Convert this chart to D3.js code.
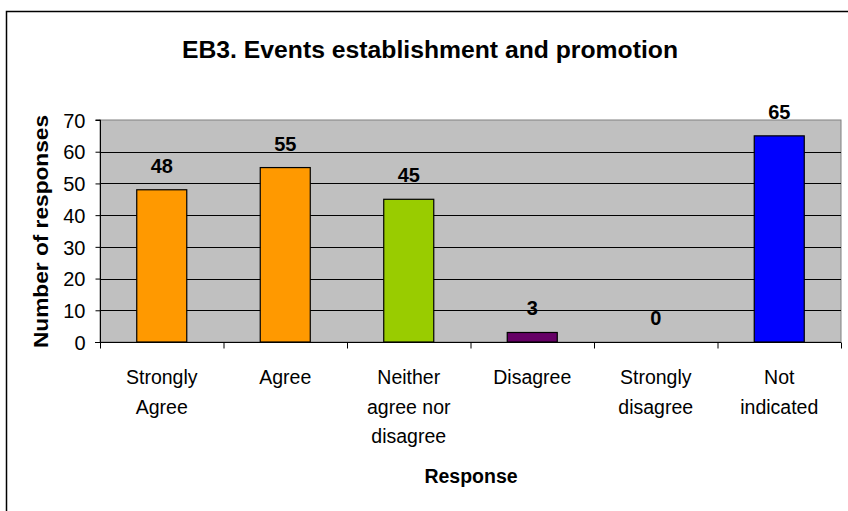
<!DOCTYPE html>
<html><head><meta charset="utf-8">
<script src="https://cdn.jsdelivr.net/npm/d3@7"></script>
<style>html,body{margin:0;padding:0;background:#fff;overflow:hidden}svg{display:block}text{font-family:"Liberation Sans",Arial,sans-serif}</style>
</head><body>
<svg id="c" width="848" height="511"></svg>
<script>
const categories = ["Strongly\nAgree", "Agree", "Neither\nagree nor\ndisagree", "Disagree", "Strongly\ndisagree", "Not\nindicated"];
const values = [48, 55, 45, 3, 0, 65];
const colors = ["#FF9900", "#FF9900", "#99CC00", "#660066", "#3366FF", "#0000FF"];
const yTicks = [0, 10, 20, 30, 40, 50, 60, 70];
const title = "EB3. Events establishment and promotion";
const xTitle = "Response";
const yTitle = "Number of responses";

const svg = d3.select("#c");
const W = 848, H = 511;
const m = {left: 100, right: 848 - 841, top: 120, bottom: 511 - 342};

// outer frame (right/bottom outside the view)
svg.append("rect").attr("x", 6.5).attr("y", 11.5).attr("width", 900).attr("height", 600)
  .attr("fill", "#fff").attr("stroke", "#000").attr("stroke-width", 1.5);

const x = d3.scaleBand().domain(d3.range(categories.length)).range([m.left, W - m.right]).padding(0);
const y = d3.scaleLinear().domain([0, 70]).range([H - m.bottom, m.top]);

// plot area
svg.append("rect").attr("x", m.left).attr("y", y(70)).attr("width", x.range()[1] - m.left)
  .attr("height", y(0) - y(70)).attr("fill", "#C0C0C0").attr("stroke", "#808080").attr("stroke-width", 1);

// gridlines
svg.append("g").selectAll("line").data(yTicks.filter(d => d > 0 && d < 70)).join("line")
  .attr("x1", m.left).attr("x2", x.range()[1])
  .attr("y1", d => Math.round(y(d)) + 0.5).attr("y2", d => Math.round(y(d)) + 0.5)
  .attr("stroke", "#000").attr("stroke-width", 1);

// bars
const bw = x.bandwidth() * 0.405;
svg.append("g").selectAll("rect").data(values).join("rect")
  .attr("x", (d, i) => x(i) + x.bandwidth() / 2 - bw / 2)
  .attr("y", d => y(d))
  .attr("width", bw)
  .attr("height", d => y(0) - y(d))
  .attr("fill", (d, i) => colors[i])
  .attr("stroke", "#000").attr("stroke-width", d => d > 0 ? 1.2 : 0);

// y axis
const yAxis = d3.axisLeft(y).tickValues(yTicks).tickSize(5).tickPadding(10).tickFormat(d3.format("d"));
const gy = svg.append("g").attr("transform", `translate(${m.left + 0.5},0)`).call(yAxis);
gy.select(".domain").attr("stroke", "#000").attr("d", `M-5,${y(70)}H0V${y(0)}`);
gy.selectAll(".tick line").attr("stroke", "#000");
gy.selectAll(".tick text").attr("font-size", 20).attr("fill", "#000").attr("dy", "0.36em")
  .attr("font-family", '"Liberation Sans",Arial,sans-serif');

// x axis
const xAxis = d3.axisBottom(d3.scaleLinear().domain([0, categories.length]).range([m.left, W - m.right]))
  .tickValues(d3.range(categories.length + 1)).tickSize(6).tickFormat("");
const gx = svg.append("g").attr("transform", `translate(0,${y(0) + 0.5})`).call(xAxis);
gx.select(".domain").attr("stroke", "#000").attr("d", `M${m.left - 5},0H${W - m.right}`);
gx.selectAll(".tick line").attr("stroke", "#000");

// category labels
const cl = svg.append("g").selectAll("text").data(categories).join("text")
  .attr("x", (d, i) => x(i) + x.bandwidth() / 2).attr("y", 384)
  .attr("text-anchor", "middle").attr("font-size", 19.5).attr("fill", "#000");
cl.each(function(d) {
  const t = d3.select(this);
  d.split("\n").forEach((line, k) => {
    t.append("tspan").attr("x", t.attr("x")).attr("dy", k === 0 ? 0 : 29.5).text(line);
  });
});

// value labels
svg.append("g").selectAll("text").data(values).join("text")
  .attr("x", (d, i) => x(i) + x.bandwidth() / 2).attr("y", d => y(d) - 17)
  .attr("text-anchor", "middle").attr("font-size", 20).attr("font-weight", "bold").attr("fill", "#000")
  .text(d => d);

// titles
svg.append("text").attr("x", 430).attr("y", 57.5).attr("text-anchor", "middle")
  .attr("font-size", 23.5).attr("font-weight", "bold").attr("fill", "#000")
  .attr("textLength", 496).attr("lengthAdjust", "spacingAndGlyphs").text(title);
svg.append("text").attr("x", 471).attr("y", 483).attr("text-anchor", "middle")
  .attr("font-size", 19.5).attr("font-weight", "bold").attr("fill", "#000").text(xTitle);
svg.append("text").attr("transform", "translate(48,231.5) rotate(-90)").attr("text-anchor", "middle")
  .attr("font-size", 21).attr("font-weight", "bold").attr("fill", "#000")
  .attr("textLength", 233).attr("lengthAdjust", "spacingAndGlyphs").text(yTitle);
</script>
</body></html>
